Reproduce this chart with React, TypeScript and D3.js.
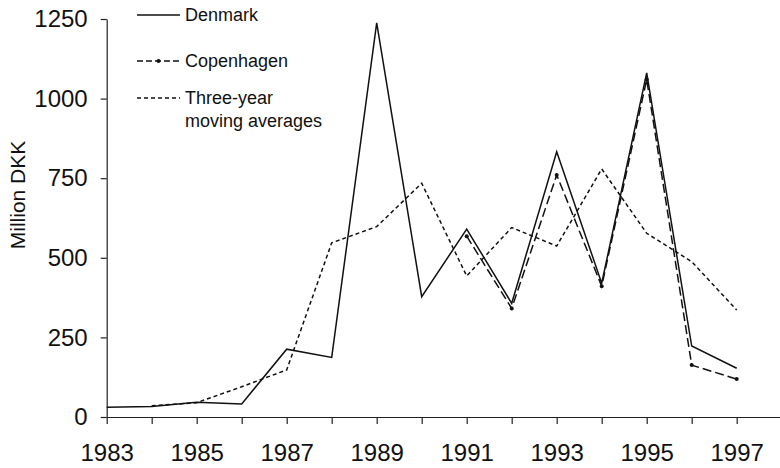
import React, { useEffect, useRef } from "react";
import * as d3 from "d3";

const years = [1983, 1984, 1985, 1986, 1987, 1988, 1989, 1990, 1991, 1992, 1993, 1994, 1995, 1996, 1997];
const denmark = [31, 33, 46, 41, 213, 187, 1238, 378, 590, 357, 833, 420, 1081, 223, 153];
const copenhagenYears = [1991, 1992, 1993, 1994, 1995, 1996, 1997];
const copenhagen = [568, 341, 760, 411, 1060, 163, 119];
const maYears = [1984, 1985, 1986, 1987, 1988, 1989, 1990, 1991, 1992, 1993, 1994, 1995, 1996, 1997];
const movingAvg = [35, 45, 95, 148, 547, 598, 734, 443, 595, 537, 779, 577, 488, 336];
const yTicks = [0, 250, 500, 750, 1000, 1250];
const xLabelYears = [1983, 1985, 1987, 1989, 1991, 1993, 1995, 1997];

const W = 780;
const H = 468;
const FONT = "'Liberation Sans', Arial, Helvetica, sans-serif";

export default function App() {
  const ref = useRef<SVGSVGElement | null>(null);

  useEffect(() => {
    const svg = d3.select(ref.current);
    svg.selectAll("*").remove();

    const x = d3.scaleLinear().domain([1983, 1998]).range([106.7, 781.7]);
    const y = d3.scaleLinear().domain([0, 1250]).range([417, 19]);

    // y axis
    const yAxis = d3
      .axisLeft(y)
      .tickValues(yTicks)
      .tickSize(6)
      .tickSizeOuter(0)
      .tickPadding(13)
      .tickFormat(d3.format("d"));
    const gy = svg.append("g").attr("transform", `translate(${x(1983)},0)`).call(yAxis);
    gy.select(".domain").attr("stroke", "#222").attr("stroke-width", 1.2);
    gy.selectAll(".tick line").attr("stroke", "#222").attr("stroke-width", 1.2);
    gy.selectAll(".tick text")
      .attr("font-family", FONT)
      .attr("font-size", 24)
      .attr("fill", "#111");

    // x axis
    const xAxis = d3
      .axisBottom(x)
      .tickValues(years)
      .tickSize(7)
      .tickSizeOuter(0)
      .tickPadding(20)
      .tickFormat((d: any) => (xLabelYears.includes(+d) ? String(d) : ""));
    const gx = svg.append("g").attr("transform", `translate(0,${y(0)})`).call(xAxis);
    gx.select(".domain").attr("stroke", "#222").attr("stroke-width", 1.2);
    gx.selectAll(".tick line").attr("stroke", "#222").attr("stroke-width", 1.2);
    gx.selectAll(".tick text")
      .attr("font-family", FONT)
      .attr("font-size", 24)
      .attr("fill", "#111");

    // y label
    svg
      .append("text")
      .attr("transform", `translate(25,${195}) rotate(-90)`)
      .attr("text-anchor", "middle")
      .attr("font-family", FONT)
      .attr("font-size", 21)
      .attr("fill", "#111")
      .text("Million DKK");

    const line = d3
      .line<[number, number]>()
      .x((d) => x(d[0]))
      .y((d) => y(d[1]));

    // moving averages
    svg
      .append("path")
      .datum(maYears.map((yr, i) => [yr, movingAvg[i]] as [number, number]))
      .attr("d", line)
      .attr("fill", "none")
      .attr("stroke", "#111")
      .attr("stroke-width", 1.5)
      .attr("stroke-dasharray", "4,3");

    // Copenhagen
    const cph = copenhagenYears.map((yr, i) => [yr, copenhagen[i]] as [number, number]);
    svg
      .append("path")
      .datum(cph)
      .attr("d", line)
      .attr("fill", "none")
      .attr("stroke", "#111")
      .attr("stroke-width", 1.5)
      .attr("stroke-dasharray", "9,4");
    svg
      .selectAll("circle.cph")
      .data(cph)
      .enter()
      .append("circle")
      .attr("class", "cph")
      .attr("cx", (d) => x(d[0]))
      .attr("cy", (d) => y(d[1]))
      .attr("r", 2)
      .attr("fill", "#111");

    // Denmark
    svg
      .append("path")
      .datum(years.map((yr, i) => [yr, denmark[i]] as [number, number]))
      .attr("d", line)
      .attr("fill", "none")
      .attr("stroke", "#111")
      .attr("stroke-width", 1.5);

    // legend
    const lg = svg.append("g");
    const lx0 = 137;
    const lx1 = 180;
    const tx = 185;
    lg.append("line").attr("x1", lx0).attr("x2", lx1).attr("y1", 15).attr("y2", 15)
      .attr("stroke", "#111").attr("stroke-width", 1.3);
    lg.append("text").attr("x", tx).attr("y", 21).attr("font-family", FONT).attr("font-size", 18)
      .attr("fill", "#111").text("Denmark");

    lg.append("line").attr("x1", lx0).attr("x2", lx1).attr("y1", 61).attr("y2", 61)
      .attr("stroke", "#111").attr("stroke-width", 1.3).attr("stroke-dasharray", "6,3");
    lg.append("circle").attr("cx", (lx0 + lx1) / 2).attr("cy", 61).attr("r", 2).attr("fill", "#111");
    lg.append("text").attr("x", tx).attr("y", 67).attr("font-family", FONT).attr("font-size", 18)
      .attr("fill", "#111").text("Copenhagen");

    lg.append("line").attr("x1", lx0).attr("x2", lx1).attr("y1", 98).attr("y2", 98)
      .attr("stroke", "#111").attr("stroke-width", 1.3).attr("stroke-dasharray", "4,3");
    lg.append("text").attr("x", tx).attr("y", 104).attr("font-family", FONT).attr("font-size", 18)
      .attr("fill", "#111").text("Three-year");
    lg.append("text").attr("x", tx).attr("y", 127).attr("font-family", FONT).attr("font-size", 18)
      .attr("fill", "#111").text("moving averages");
  }, []);

  return (
    <svg
      ref={ref}
      width={W}
      height={H}
      style={{ position: "absolute", left: 0, top: 0, background: "#fff" }}
    />
  );
}
